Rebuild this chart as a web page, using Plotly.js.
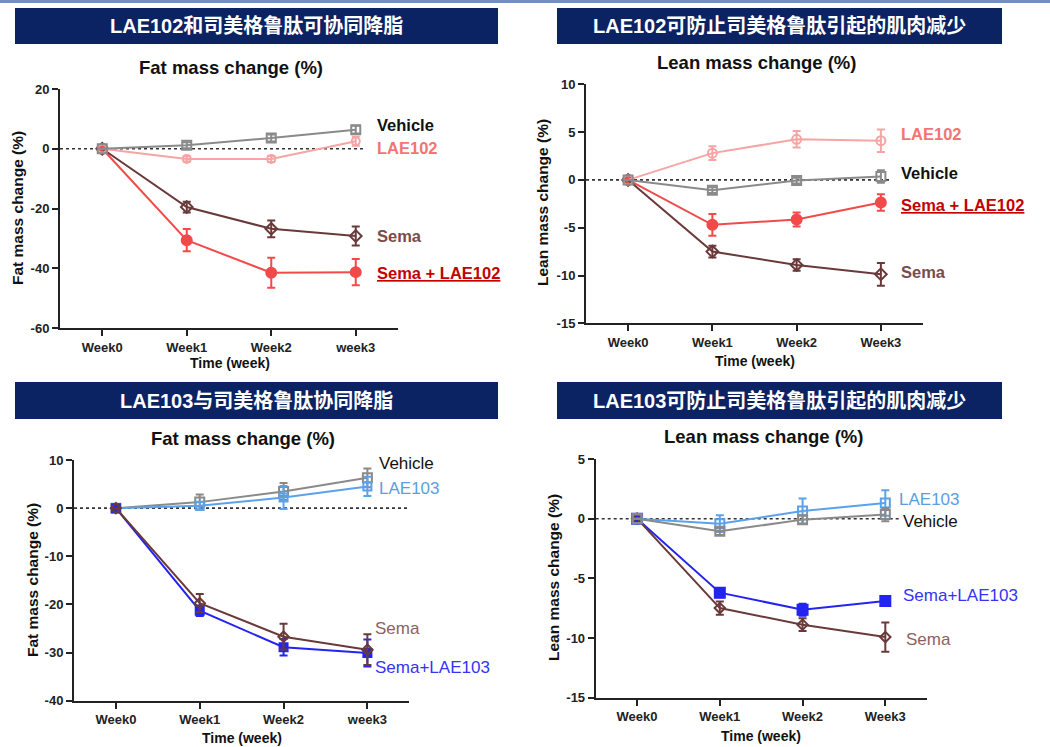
<!DOCTYPE html>
<html>
<head>
<meta charset="utf-8">
<script src="https://cdn.plot.ly/plotly-3.0.1.min.js"></script>
<style>html,body{margin:0;padding:0;background:#fff;}#chart{width:1050px;height:747px;}</style>
</head>
<body>
<div id="chart"></div>
<script>
// ---------- DATA ----------
const weeks = [0, 1, 2, 3];
const tickLabelsLower = ['Week0', 'Week1', 'Week2', 'week3'];
const tickLabelsUpper = ['Week0', 'Week1', 'Week2', 'Week3'];

const bannerTexts = [
  'LAE102和司美格鲁肽可协同降脂',
  'LAE102可防止司美格鲁肽引起的肌肉减少',
  'LAE103与司美格鲁肽协同降脂',
  'LAE103可防止司美格鲁肽引起的肌肉减少'
];
const chartTitles = ['Fat mass change (%)', 'Lean mass change (%)', 'Fat mass change (%)', 'Lean mass change (%)'];
const yTitles = ['Fat mass change (%)', 'Lean mass change (%)', 'Fat mass change (%)', 'Lean mass change (%)'];
const xTitle = 'Time (week)';

const yTicks1 = [-60, -40, -20, 0, 20];
const yTickText1 = ['-60', '-40', '-20', '0', '20'];
const yTicks2 = [-15, -10, -5, 0, 5, 10];
const yTickText2 = ['-15', '-10', '-5', '0', '5', '10'];
const yTicks3 = [-40, -30, -20, -10, 0, 10];
const yTickText3 = ['-40', '-30', '-20', '-10', '0', '10'];
const yTicks4 = [-15, -10, -5, 0, 5];
const yTickText4 = ['-15', '-10', '-5', '0', '5'];

// Panel 1: Fat mass change, LAE102
const fat102Names = ['Vehicle', 'LAE102', 'Sema', 'Sema + LAE102'];
const fat102Vehicle = [0, 1.2, 3.6, 6.4];
const fat102VehicleErr = [0, 1.0, 1.2, 1.3];
const fat102Lae = [0, -3.4, -3.4, 2.5];
const fat102LaeErr = [0, 0.9, 1.0, 1.5];
const fat102Sema = [0, -19.5, -26.8, -29.2];
const fat102SemaErr = [0, 1.8, 2.8, 3.2];
const fat102Combo = [0, -30.6, -41.5, -41.3];
const fat102ComboErr = [0, 3.7, 5.0, 4.4];

// Panel 2: Lean mass change, LAE102
const lean102Names = ['LAE102', 'Vehicle', 'Sema + LAE102', 'Sema'];
const lean102Lae = [0, 2.8, 4.25, 4.1];
const lean102LaeErr = [0, 0.73, 0.87, 1.17];
const lean102Vehicle = [0, -1.08, -0.07, 0.35];
const lean102VehicleErr = [0, 0.3, 0.3, 0.66];
const lean102Combo = [0, -4.7, -4.15, -2.37];
const lean102ComboErr = [0, 1.13, 0.73, 0.87];
const lean102Sema = [0, -7.5, -8.9, -9.87];
const lean102SemaErr = [0, 0.61, 0.6, 1.19];

// Panel 3: Fat mass change, LAE103
const fat103Names = ['Vehicle', 'LAE103', 'Sema', 'Sema+LAE103'];
const fat103Vehicle = [0, 1.25, 3.46, 6.3];
const fat103VehicleErr = [0, 1.56, 1.77, 1.94];
const fat103Lae = [0, 0.5, 2.2, 4.5];
const fat103LaeErr = [0, 0.8, 2.4, 2.0];
const fat103Sema = [0, -19.75, -26.7, -29.4];
const fat103SemaErr = [0, 1.9, 2.66, 3.2];
const fat103Combo = [0, -21.3, -28.9, -30.1];
const fat103ComboErr = [0, 1.1, 1.7, 2.8];

// Panel 4: Lean mass change, LAE103
const lean103Names = ['LAE103', 'Vehicle', 'Sema+LAE103', 'Sema'];
const lean103Lae = [0, -0.42, 0.64, 1.31];
const lean103LaeErr = [0, 0.7, 1.05, 1.07];
const lean103Vehicle = [0, -1.06, -0.08, 0.34];
const lean103VehicleErr = [0, 0.3, 0.35, 0.56];
const lean103Combo = [0, -6.2, -7.63, -6.9];
const lean103ComboErr = [0, 0.38, 0.5, 0.4];
const lean103Sema = [0, -7.49, -8.88, -9.92];
const lean103SemaErr = [0, 0.56, 0.53, 1.23];

// ---------- STYLE ----------
const W = 1050, H = 747;
const px = x => x / W;
const py = y => 1 - y / H;
const FONT = 'Liberation Sans, Arial, Helvetica, sans-serif';
const CJK = 'Liberation Sans, Arial, "Noto Sans CJK SC", sans-serif';
const NAVY = '#0b2263';
const C = {
  vehicle: '#8a8a8a', lae102: '#f6a4a4', sema: '#6a3a3a', combo102: '#f24a4a',
  lae103: '#5aa2ec', combo103: '#2424f2'
};

function tr(xa, ya, y, err, color, symbol, size, name) {
  return {
    x: weeks, y: y, xaxis: xa, yaxis: ya, name: name, type: 'scatter',
    mode: 'lines+markers', cliponaxis: false, showlegend: false,
    line: {color: color, width: 2},
    marker: {symbol: symbol, size: size, color: color, line: {color: color, width: 2}},
    error_y: {type: 'data', array: err, visible: true, color: color, thickness: 2, width: 4}
  };
}

const data = [
  // panel 1
  tr('x', 'y', fat102Combo, fat102ComboErr, C.combo102, 'circle', 10, fat102Names[3]),
  tr('x', 'y', fat102Sema, fat102SemaErr, C.sema, 'diamond-open', 9, fat102Names[2]),
  tr('x', 'y', fat102Lae, fat102LaeErr, C.lae102, 'circle-open', 8, fat102Names[1]),
  tr('x', 'y', fat102Vehicle, fat102VehicleErr, C.vehicle, 'square-open', 9, fat102Names[0]),
  // panel 2
  tr('x2', 'y2', lean102Combo, lean102ComboErr, C.combo102, 'circle', 10, lean102Names[2]),
  tr('x2', 'y2', lean102Sema, lean102SemaErr, C.sema, 'diamond-open', 9, lean102Names[3]),
  tr('x2', 'y2', lean102Lae, lean102LaeErr, C.lae102, 'circle-open', 9, lean102Names[0]),
  tr('x2', 'y2', lean102Vehicle, lean102VehicleErr, C.vehicle, 'square-open', 9, lean102Names[1]),
  // panel 3
  tr('x3', 'y3', fat103Vehicle, fat103VehicleErr, C.vehicle, 'square-open', 9, fat103Names[0]),
  tr('x3', 'y3', fat103Lae, fat103LaeErr, C.lae103, 'square-open', 8, fat103Names[1]),
  tr('x3', 'y3', fat103Combo, fat103ComboErr, C.combo103, 'square', 8, fat103Names[3]),
  tr('x3', 'y3', fat103Sema, fat103SemaErr, C.sema, 'diamond-open', 8, fat103Names[2]),
  // panel 4
  tr('x4', 'y4', lean103Combo, lean103ComboErr, C.combo103, 'square', 10, lean103Names[2]),
  tr('x4', 'y4', lean103Sema, lean103SemaErr, C.sema, 'diamond-open', 8, lean103Names[3]),
  tr('x4', 'y4', lean103Lae, lean103LaeErr, C.lae103, 'square-open', 9, lean103Names[0]),
  tr('x4', 'y4', lean103Vehicle, lean103VehicleErr, C.vehicle, 'square-open', 9, lean103Names[1])
];

function xax(domain, anchor, ticktext) {
  return {
    domain: domain, anchor: anchor, range: [-0.5, 3.5], tickvals: weeks, ticktext: ticktext,
    showline: true, linecolor: '#222', linewidth: 2, ticks: 'outside', ticklen: 6, tickwidth: 2,
    tickcolor: '#222', showgrid: false, zeroline: false, fixedrange: true,
    tickfont: {family: FONT, size: 13, color: '#222', weight: 'bold'}
  };
}
function yax(domain, anchor, range, tv, tt) {
  return {
    domain: domain, anchor: anchor, range: range, tickvals: tv, ticktext: tt,
    showline: true, linecolor: '#222', linewidth: 2, ticks: 'outside', ticklen: 6, tickwidth: 2,
    tickcolor: '#222', showgrid: false, zeroline: false, fixedrange: true,
    tickfont: {family: FONT, size: 13, color: '#222', weight: 'bold'}
  };
}

function banner(x0, x1, y0, y1, text) {
  return {
    shape: {type: 'rect', xref: 'paper', yref: 'paper', x0: px(x0), x1: px(x1), y0: py(y1), y1: py(y0),
      fillcolor: NAVY, line: {width: 0}, layer: 'below'},
    ann: {xref: 'paper', yref: 'paper', x: px((x0 + x1) / 2), y: py((y0 + y1) / 2), text: '<b>' + text + '</b>',
      showarrow: false, xanchor: 'center', yanchor: 'middle', font: {family: CJK, size: 20, color: '#fff'}}
  };
}
const banners = [
  banner(15, 498, 8, 44, bannerTexts[0]),
  banner(557, 1002, 8, 44, bannerTexts[1]),
  banner(15, 498, 382, 419, bannerTexts[2]),
  banner(557, 1002, 382, 419, bannerTexts[3])
];

function ptext(x, y, text, size, opts) {
  return Object.assign({xref: 'paper', yref: 'paper', x: px(x), y: py(y), text: text, showarrow: false,
    xanchor: 'center', yanchor: 'middle', font: {family: FONT, size: size, color: '#111'}}, opts || {});
}
function label(xa, ya, x, y, text, color, bold) {
  return {xref: xa, yref: ya, x: x, y: y, text: bold ? '<b>' + text + '</b>' : text, showarrow: false,
    xanchor: 'left', yanchor: 'middle', font: {family: FONT, size: bold ? 16.5 : 17, color: color}};
}

const annotations = [
  ...banners.map(b => b.ann),
  // chart titles
  ptext(231, 67, '<b>' + chartTitles[0] + '</b>', 18.5),
  ptext(756, 62, '<b>' + chartTitles[1] + '</b>', 18.5),
  ptext(243, 438, '<b>' + chartTitles[2] + '</b>', 18.5),
  ptext(763, 437, '<b>' + chartTitles[3] + '</b>', 18.5),
  // y titles
  ptext(17, 208, '<b>' + yTitles[0] + '</b>', 15.5, {textangle: -90}),
  ptext(542, 203, '<b>' + yTitles[1] + '</b>', 15.5, {textangle: -90}),
  ptext(32, 580, '<b>' + yTitles[2] + '</b>', 15.5, {textangle: -90}),
  ptext(553, 578, '<b>' + yTitles[3] + '</b>', 15.5, {textangle: -90}),
  // x titles
  ptext(230, 363, '<b>' + xTitle + '</b>', 14),
  ptext(755, 361, '<b>' + xTitle + '</b>', 14),
  ptext(242, 738, '<b>' + xTitle + '</b>', 14),
  ptext(761, 736, '<b>' + xTitle + '</b>', 14),
  // series labels panel 1
  label('x', 'y', 3.23, 7.9, fat102Names[0], '#111', true),
  label('x', 'y', 3.23, 0.4, fat102Names[1], '#f47474', true),
  label('x', 'y', 3.23, -29.2, fat102Names[2], '#7a4b4b', true),
  label('x', 'y', 3.23, -41.6, '<u>' + fat102Names[3] + '</u>', '#c40000', true),
  // panel 2
  label('x2', 'y2', 3.21, 4.8, lean102Names[0], '#f47474', true),
  label('x2', 'y2', 3.21, 0.73, lean102Names[1], '#111', true),
  label('x2', 'y2', 3.21, -2.6, '<u>' + lean102Names[2] + '</u>', '#c40000', true),
  label('x2', 'y2', 3.21, -9.6, lean102Names[3], '#7a4b4b', true),
  // panel 3
  label('x3', 'y3', 3.11, 9.3, fat103Names[0], '#111', false),
  label('x3', 'y3', 3.11, 4.1, fat103Names[1], '#5b9ee0', false),
  label('x3', 'y3', 3.07, -25, fat103Names[2], '#8b6262', false),
  label('x3', 'y3', 3.07, -33.2, fat103Names[3], '#3434f4', false),
  // panel 4
  label('x4', 'y4', 3.14, 1.6, lean103Names[0], '#5b9ee0', false),
  label('x4', 'y4', 3.19, -0.27, lean103Names[1], '#111', false),
  label('x4', 'y4', 3.19, -6.4, lean103Names[2], '#3434f4', false),
  label('x4', 'y4', 3.22, -10.1, lean103Names[3], '#8b6262', false)
];

function zeroLine(xa, ya, x1) {
  return {type: 'line', xref: xa, yref: ya, x0: -0.5, x1: x1, y0: 0, y1: 0, layer: 'below',
    line: {color: '#333', width: 1.6, dash: 'dot'}};
}

const shapes = [
  {type: 'line', xref: 'paper', yref: 'paper', x0: 0, x1: 1, y0: py(1.5), y1: py(1.5),
    line: {color: '#7190c0', width: 3}},
  ...banners.map(b => b.shape),
  zeroLine('x', 'y', 3.11),
  zeroLine('x2', 'y2', 3.12),
  zeroLine('x3', 'y3', 3.49),
  zeroLine('x4', 'y4', 3.19)
];

const layout = {
  width: W, height: H, margin: {l: 0, r: 0, t: 0, b: 0},
  paper_bgcolor: '#fff', plot_bgcolor: 'rgba(0,0,0,0)', showlegend: false,
  font: {family: FONT},
  xaxis: xax([px(60), px(398)], 'y', tickLabelsLower),
  yaxis: yax([py(328), py(89)], 'x', [-60, 20], yTicks1, yTickText1),
  xaxis2: xax([px(586), px(923)], 'y2', tickLabelsUpper),
  yaxis2: yax([py(323.3), py(84.3)], 'x2', [-15, 10], yTicks2, yTickText2),
  xaxis3: xax([px(74), px(409.3)], 'y3', tickLabelsLower),
  yaxis3: yax([py(700.7), py(460)], 'x3', [-40, 10], yTicks3, yTickText3),
  xaxis4: xax([px(595.7), px(926.7)], 'y4', tickLabelsUpper),
  yaxis4: yax([py(697.7), py(459)], 'x4', [-15, 5], yTicks4, yTickText4),
  annotations: annotations,
  shapes: shapes
};

Plotly.newPlot('chart', data, layout, {staticPlot: true, displayModeBar: false});
</script>
</body>
</html>
